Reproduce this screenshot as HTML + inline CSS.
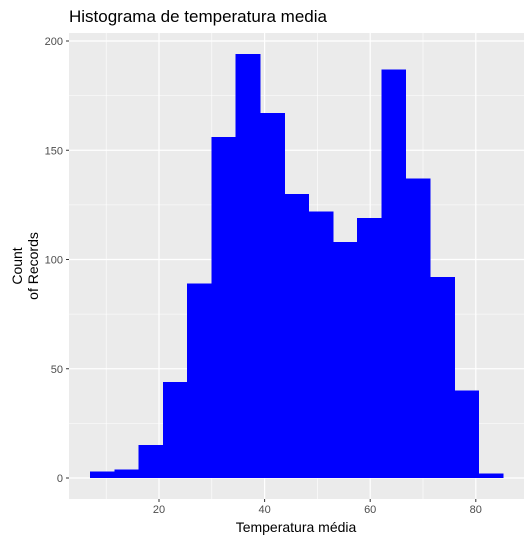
<!DOCTYPE html>
<html><head><meta charset="utf-8"><style>
body{margin:0;background:#fff;}
svg{display:block;font-family:"Liberation Sans",sans-serif;}
</style></head><body>
<svg id="chart" width="531" height="544">
<text x="69" y="22" font-size="17" fill="#000">Histograma de temperatura media</text>
<rect x="69" y="33" width="455" height="466" fill="#ebebeb"/>
<g id="grid"></g><g id="bars" shape-rendering="crispEdges"></g><g id="axes"></g>
<text x="296" y="532" font-size="14" text-anchor="middle">Temperatura média</text>
<g transform="translate(28,266) rotate(-90)">
<text x="0" y="-6" font-size="14" text-anchor="middle">Count</text>
<text x="0" y="10" font-size="14" text-anchor="middle">of Records</text>
</g>
</svg>
<script>
const binStart = 6.93;
const binWidth = 4.6;
const counts = [3,4,15,44,89,156,194,167,130,122,108,119,187,137,92,40,2];
const xTicks = [20,40,60,80];
const yTicks = [0,50,100,150,200];
const NS='http://www.w3.org/2000/svg';
function x(v){return 159+(v-20)*5.28;}
function y(v){return 478-v*2.185;}
function mk(t,a,p){const e=document.createElementNS(NS,t);for(const k in a)e.setAttribute(k,a[k]);p.appendChild(e);return e;}
const grid=document.getElementById('grid'),bars=document.getElementById('bars'),axes=document.getElementById('axes');
for(let v=10;v<=90;v+=10){const l=mk('line',{x1:x(v),x2:x(v),y1:33,y2:499,stroke:'#fff','stroke-width':v%20?0.6:1.2},grid);

}
for(let v=-25;v<=225;v+=25){const yy=y(v);if(yy<33||yy>499)continue;const l=mk('line',{x1:69,x2:524,y1:yy,y2:yy,stroke:'#fff','stroke-width':v%50?0.6:1.2},grid);

}
counts.forEach((c,i)=>{const x0=x(binStart+i*binWidth),x1=x(binStart+(i+1)*binWidth);
const r=mk('rect',{x:x0,y:y(c),width:x1-x0+0.5,height:y(0)-y(c),fill:'#0000ff'},bars);

});
xTicks.forEach(v=>{mk('line',{x1:x(v),x2:x(v),y1:499,y2:502,stroke:'#333'},axes);
const t=mk('text',{x:x(v),y:513,'font-size':'11','text-anchor':'middle',fill:'#4d4d4d'},axes);t.textContent=v;

});
yTicks.forEach(v=>{mk('line',{x1:66,x2:69,y1:y(v),y2:y(v),stroke:'#333'},axes);
const t=mk('text',{x:63,y:y(v)+4,'font-size':'11','text-anchor':'end',fill:'#4d4d4d'},axes);t.textContent=v;

});
</script>
</body></html>
